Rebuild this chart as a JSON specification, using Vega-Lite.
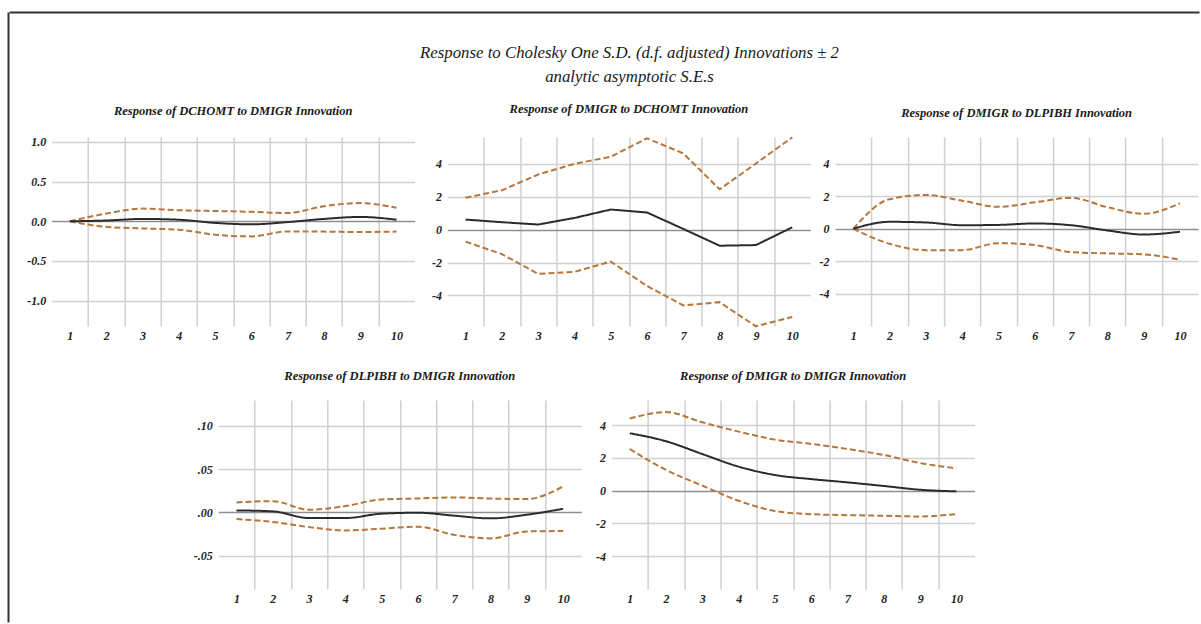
{
  "$schema": "https://vega.github.io/schema/vega-lite/v6.json",
  "padding": {"left": 5, "top": 12, "right": 0, "bottom": 0},
  "background": "white",
  "bounds": "flush",
  "spacing": 0,
  "datasets": {
    "irf": [
      {"p": 1, "h": 1, "r": 0, "hi": 0, "lo": 0},
      {"p": 1, "h": 2, "r": 0.01, "hi": 0.097, "lo": -0.07},
      {"p": 1, "h": 3, "r": 0.03, "hi": 0.16, "lo": -0.09},
      {"p": 1, "h": 4, "r": 0.02, "hi": 0.14, "lo": -0.105},
      {"p": 1, "h": 5, "r": -0.02, "hi": 0.13, "lo": -0.17},
      {"p": 1, "h": 6, "r": -0.038, "hi": 0.12, "lo": -0.19},
      {"p": 1, "h": 7, "r": -0.01, "hi": 0.105, "lo": -0.127},
      {"p": 1, "h": 8, "r": 0.03, "hi": 0.19, "lo": -0.13},
      {"p": 1, "h": 9, "r": 0.055, "hi": 0.23, "lo": -0.135},
      {"p": 1, "h": 10, "r": 0.02, "hi": 0.17, "lo": -0.13},
      {"p": 2, "h": 1, "r": 0.61, "hi": 1.94, "lo": -0.73},
      {"p": 2, "h": 2, "r": 0.45, "hi": 2.39, "lo": -1.49},
      {"p": 2, "h": 3, "r": 0.31, "hi": 3.35, "lo": -2.69},
      {"p": 2, "h": 4, "r": 0.71, "hi": 4.0, "lo": -2.57},
      {"p": 2, "h": 5, "r": 1.22, "hi": 4.43, "lo": -1.94},
      {"p": 2, "h": 6, "r": 1.04, "hi": 5.55, "lo": -3.43},
      {"p": 2, "h": 7, "r": 0.04, "hi": 4.63, "lo": -4.61},
      {"p": 2, "h": 8, "r": -0.98, "hi": 2.45, "lo": -4.41},
      {"p": 2, "h": 9, "r": -0.94, "hi": 4.02, "lo": -5.88},
      {"p": 2, "h": 10, "r": 0.14, "hi": 5.61, "lo": -5.31},
      {"p": 3, "h": 1, "r": 0, "hi": 0, "lo": 0},
      {"p": 3, "h": 2, "r": 0.43, "hi": 1.82, "lo": -0.92},
      {"p": 3, "h": 3, "r": 0.39, "hi": 2.08, "lo": -1.31},
      {"p": 3, "h": 4, "r": 0.22, "hi": 1.73, "lo": -1.31},
      {"p": 3, "h": 5, "r": 0.24, "hi": 1.35, "lo": -0.88},
      {"p": 3, "h": 6, "r": 0.33, "hi": 1.63, "lo": -1.0},
      {"p": 3, "h": 7, "r": 0.22, "hi": 1.9, "lo": -1.43},
      {"p": 3, "h": 8, "r": -0.1, "hi": 1.33, "lo": -1.51},
      {"p": 3, "h": 9, "r": -0.35, "hi": 0.92, "lo": -1.57},
      {"p": 3, "h": 10, "r": -0.18, "hi": 1.57, "lo": -1.9},
      {"p": 4, "h": 1, "r": 0.0023, "hi": 0.0115, "lo": -0.0077},
      {"p": 4, "h": 2, "r": 0.0012, "hi": 0.013, "lo": -0.011},
      {"p": 4, "h": 3, "r": -0.0065, "hi": 0.003, "lo": -0.017},
      {"p": 4, "h": 4, "r": -0.0065, "hi": 0.0073, "lo": -0.0208},
      {"p": 4, "h": 5, "r": -0.0015, "hi": 0.015, "lo": -0.0188},
      {"p": 4, "h": 6, "r": -0.0004, "hi": 0.016, "lo": -0.0165},
      {"p": 4, "h": 7, "r": -0.0038, "hi": 0.0173, "lo": -0.026},
      {"p": 4, "h": 8, "r": -0.0069, "hi": 0.016, "lo": -0.03},
      {"p": 4, "h": 9, "r": -0.0027, "hi": 0.0154, "lo": -0.022},
      {"p": 4, "h": 10, "r": 0.0042, "hi": 0.03, "lo": -0.0215},
      {"p": 5, "h": 1, "r": 3.51, "hi": 4.41, "lo": 2.55},
      {"p": 5, "h": 2, "r": 3.02, "hi": 4.8, "lo": 1.27},
      {"p": 5, "h": 3, "r": 2.24, "hi": 4.18, "lo": 0.31},
      {"p": 5, "h": 4, "r": 1.47, "hi": 3.61, "lo": -0.61},
      {"p": 5, "h": 5, "r": 0.96, "hi": 3.12, "lo": -1.24},
      {"p": 5, "h": 6, "r": 0.71, "hi": 2.86, "lo": -1.43},
      {"p": 5, "h": 7, "r": 0.51, "hi": 2.55, "lo": -1.49},
      {"p": 5, "h": 8, "r": 0.29, "hi": 2.18, "lo": -1.53},
      {"p": 5, "h": 9, "r": 0.06, "hi": 1.69, "lo": -1.57},
      {"p": 5, "h": 10, "r": -0.04, "hi": 1.37, "lo": -1.43}
    ]
  },
  "hconcat": [
    {
      "width": 1, "height": 610,
      "data": {"name": "irf"},
      "mark": {"type": "point", "opacity": 0},
      "encoding": {
        "y": {"field": "r", "type": "quantitative", "axis": {"orient": "left", "domain": true, "domainColor": "#333333", "domainWidth": 2, "labels": false, "grid": false, "ticks": false}}
      }
    },
    {
      "bounds": "flush",
      "spacing": 105,
      "vconcat": [
        {
          "width": 1190, "height": 0,
          "data": {"name": "irf"},
          "mark": {"type": "point", "opacity": 0},
          "encoding": {
            "x": {"field": "h", "type": "quantitative", "axis": {"orient": "top", "domain": true, "domainColor": "#333333", "domainWidth": 2, "labels": false, "grid": false, "ticks": false}}
          }
        },
        {
          "title": {
            "text": ["Response to Cholesky One S.D. (d.f. adjusted) Innovations ± 2", "analytic asymptotic S.E.s"],
            "font": "Liberation Serif",
            "fontSize": 16.8,
            "fontStyle": "italic",
            "fontWeight": "normal",
            "color": "#1a1a1a",
            "lineHeight": 23.3,
            "anchor": "middle",
            "dx": 26,
            "offset": 17.5
          },
          "spacing": 28,
          "vconcat": [
            {
              "bounds": "flush",
              "spacing": 32.7,
              "hconcat": [
                {"width": 9.9, "height": 189, "data": {"values": []}, "mark": "point"},
                {
                  "width": 363, "height": 189,
                  "title": {"text": "Response of DCHOMT to DMIGR Innovation"},
                  "data": {"name": "irf"},
                  "transform": [{"filter": "datum.p === 1"}, {"fold": ["hi", "lo", "r"], "as": ["s", "v"]}],
                  "mark": {"type": "line", "interpolate": "monotone", "strokeWidth": 2},
                  "encoding": {
                    "x": {"field": "h", "type": "quantitative", "scale": {"domain": [0.5, 10.5], "nice": false, "zero": false},
                      "axis": {"values": [1, 1.5, 2, 2.5, 3, 3.5, 4, 4.5, 5, 5.5, 6, 6.5, 7, 7.5, 8, 8.5, 9, 9.5, 10], "labelExpr": "datum.value % 1 === 0 ? '' + datum.value : ''", "gridOpacity": {"condition": {"test": "datum.value % 1 === 0", "value": 0}, "value": 1}}},
                    "y": {"field": "v", "type": "quantitative", "scale": {"domain": [-1.32, 1.063], "nice": false, "zero": false},
                      "axis": {"values": [-1, -0.5, 0, 0.5, 1], "format": ".1f", "labelExpr": "replace(datum.label, '\u2212', '-')", "gridColor": {"condition": {"test": "datum.value === 0", "value": "#8f8f8f"}, "value": "#d0d0d0"}}},
                    "color": {"field": "s", "type": "nominal", "scale": {"domain": ["hi", "lo", "r"], "range": ["#b5773b", "#b5773b", "#2b2b2b"]}, "legend": null},
                    "strokeDash": {"field": "s", "type": "nominal", "scale": {"domain": ["hi", "lo", "r"], "range": [[6, 3], [6, 3], [1, 0]]}, "legend": null}
                  }
                },
                {
                  "bounds": "flush",
                  "spacing": 24.7,
                  "hconcat": [
                    {
                      "width": 363, "height": 189,
                      "title": {"text": "Response of DMIGR to DCHOMT Innovation"},
                      "data": {"name": "irf"},
                      "transform": [{"filter": "datum.p === 2"}, {"fold": ["hi", "lo", "r"], "as": ["s", "v"]}],
                      "mark": {"type": "line", "interpolate": "linear", "strokeWidth": 2},
                      "encoding": {
                        "x": {"field": "h", "type": "quantitative", "scale": {"domain": [0.5, 10.5], "nice": false, "zero": false},
                          "axis": {"values": [1, 1.5, 2, 2.5, 3, 3.5, 4, 4.5, 5, 5.5, 6, 6.5, 7, 7.5, 8, 8.5, 9, 9.5, 10], "labelExpr": "datum.value % 1 === 0 ? '' + datum.value : ''", "gridOpacity": {"condition": {"test": "datum.value % 1 === 0", "value": 0}, "value": 1}}},
                        "y": {"field": "v", "type": "quantitative", "scale": {"domain": [-5.86, 5.63], "nice": false, "zero": false},
                          "axis": {"values": [-4, -2, 0, 2, 4], "format": "d", "labelExpr": "replace(datum.label, '\u2212', '-')", "gridColor": {"condition": {"test": "datum.value === 0", "value": "#8f8f8f"}, "value": "#d0d0d0"}}},
                        "color": {"field": "s", "type": "nominal", "scale": {"domain": ["hi", "lo", "r"], "range": ["#b5773b", "#b5773b", "#2b2b2b"]}, "legend": null},
                        "strokeDash": {"field": "s", "type": "nominal", "scale": {"domain": ["hi", "lo", "r"], "range": [[6, 3], [6, 3], [1, 0]]}, "legend": null}
                      }
                    },
                    {
                      "width": 363, "height": 189,
                      "title": {"text": "Response of DMIGR to DLPIBH Innovation"},
                      "data": {"name": "irf"},
                      "transform": [{"filter": "datum.p === 3"}, {"fold": ["hi", "lo", "r"], "as": ["s", "v"]}],
                      "mark": {"type": "line", "interpolate": "monotone", "strokeWidth": 2},
                      "encoding": {
                        "x": {"field": "h", "type": "quantitative", "scale": {"domain": [0.5, 10.5], "nice": false, "zero": false},
                          "axis": {"values": [1, 1.5, 2, 2.5, 3, 3.5, 4, 4.5, 5, 5.5, 6, 6.5, 7, 7.5, 8, 8.5, 9, 9.5, 10], "labelExpr": "datum.value % 1 === 0 ? '' + datum.value : ''", "gridOpacity": {"condition": {"test": "datum.value % 1 === 0", "value": 0}, "value": 1}}},
                        "y": {"field": "v", "type": "quantitative", "scale": {"domain": [-5.97, 5.64], "nice": false, "zero": false},
                          "axis": {"values": [-4, -2, 0, 2, 4], "format": "d", "labelExpr": "replace(datum.label, '\u2212', '-')", "gridColor": {"condition": {"test": "datum.value === 0", "value": "#8f8f8f"}, "value": "#d0d0d0"}}},
                        "color": {"field": "s", "type": "nominal", "scale": {"domain": ["hi", "lo", "r"], "range": ["#b5773b", "#b5773b", "#2b2b2b"]}, "legend": null},
                        "strokeDash": {"field": "s", "type": "nominal", "scale": {"domain": ["hi", "lo", "r"], "range": [[6, 3], [6, 3], [1, 0]]}, "legend": null}
                      }
                    }
                  ]
                }
              ]
            },
            {
              "bounds": "flush",
              "spacing": 30.3,
              "hconcat": [
                {"width": 179, "height": 189, "data": {"values": []}, "mark": "point"},
                {
                  "width": 363, "height": 189,
                  "title": {"text": "Response of DLPIBH to DMIGR Innovation"},
                  "data": {"name": "irf"},
                  "transform": [{"filter": "datum.p === 4"}, {"fold": ["hi", "lo", "r"], "as": ["s", "v"]}],
                  "mark": {"type": "line", "interpolate": "monotone", "strokeWidth": 2},
                  "encoding": {
                    "x": {"field": "h", "type": "quantitative", "scale": {"domain": [0.5, 10.5], "nice": false, "zero": false},
                      "axis": {"values": [1, 1.5, 2, 2.5, 3, 3.5, 4, 4.5, 5, 5.5, 6, 6.5, 7, 7.5, 8, 8.5, 9, 9.5, 10], "labelExpr": "datum.value % 1 === 0 ? '' + datum.value : ''", "gridOpacity": {"condition": {"test": "datum.value % 1 === 0", "value": 0}, "value": 1}}},
                    "y": {"field": "v", "type": "quantitative", "scale": {"domain": [-0.0884, 0.1297], "nice": false, "zero": false},
                      "axis": {"values": [-0.05, 0, 0.05, 0.1], "format": ".2f", "labelExpr": "replace(replace(datum.label, '\u2212', '-'), '0.', '.')", "gridColor": {"condition": {"test": "datum.value === 0", "value": "#8f8f8f"}, "value": "#d0d0d0"}}},
                    "color": {"field": "s", "type": "nominal", "scale": {"domain": ["hi", "lo", "r"], "range": ["#b5773b", "#b5773b", "#2b2b2b"]}, "legend": null},
                    "strokeDash": {"field": "s", "type": "nominal", "scale": {"domain": ["hi", "lo", "r"], "range": [[6, 3], [6, 3], [1, 0]]}, "legend": null}
                  }
                },
                {
                  "width": 363, "height": 189,
                  "title": {"text": "Response of DMIGR to DMIGR Innovation"},
                  "data": {"name": "irf"},
                  "transform": [{"filter": "datum.p === 5"}, {"fold": ["hi", "lo", "r"], "as": ["s", "v"]}],
                  "mark": {"type": "line", "interpolate": "monotone", "strokeWidth": 2},
                  "encoding": {
                    "x": {"field": "h", "type": "quantitative", "scale": {"domain": [0.5, 10.5], "nice": false, "zero": false},
                      "axis": {"values": [1, 1.5, 2, 2.5, 3, 3.5, 4, 4.5, 5, 5.5, 6, 6.5, 7, 7.5, 8, 8.5, 9, 9.5, 10], "labelExpr": "datum.value % 1 === 0 ? '' + datum.value : ''", "gridOpacity": {"condition": {"test": "datum.value % 1 === 0", "value": 0}, "value": 1}}},
                    "y": {"field": "v", "type": "quantitative", "scale": {"domain": [-6.0, 5.54], "nice": false, "zero": false},
                      "axis": {"values": [-4, -2, 0, 2, 4], "format": "d", "labelExpr": "replace(datum.label, '\u2212', '-')", "gridColor": {"condition": {"test": "datum.value === 0", "value": "#8f8f8f"}, "value": "#d0d0d0"}}},
                    "color": {"field": "s", "type": "nominal", "scale": {"domain": ["hi", "lo", "r"], "range": ["#b5773b", "#b5773b", "#2b2b2b"]}, "legend": null},
                    "strokeDash": {"field": "s", "type": "nominal", "scale": {"domain": ["hi", "lo", "r"], "range": [[6, 3], [6, 3], [1, 0]]}, "legend": null}
                  }
                }
              ]
            }
          ]
        }
      ]
    }
  ],
  "config": {
    "view": {"stroke": null},
    "font": "Liberation Serif",
    "title": {"font": "Liberation Serif", "fontSize": 12.5, "fontStyle": "italic", "fontWeight": "bold", "color": "#1a1a1a", "offset": 18, "anchor": "middle"},
    "axis": {"domain": false, "ticks": false, "tickSize": 0, "title": null, "labelFont": "Liberation Serif", "labelFontSize": 12, "labelFontStyle": "italic", "labelFontWeight": "bold", "labelColor": "#222222", "gridColor": "#d0d0d0", "gridWidth": 1.5, "labelOverlap": false, "labelBound": false, "labelFlush": false},
    "axisX": {"labelPadding": 4},
    "axisY": {"labelPadding": 6}
  }
}
